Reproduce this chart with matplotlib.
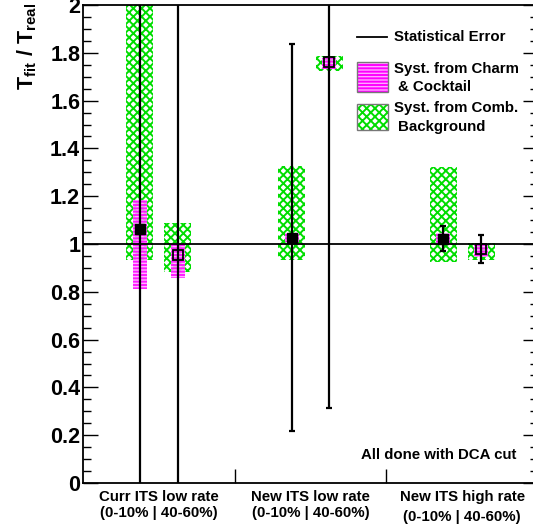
import matplotlib
matplotlib.use("Agg")
import matplotlib.pyplot as plt
from matplotlib.patches import Rectangle
from matplotlib.lines import Line2D
import numpy as np

plt.rcParams['font.family'] = ['Liberation Sans', 'DejaVu Sans']
plt.rcParams['font.weight'] = 'bold'
plt.rcParams['mathtext.fontset'] = 'custom'
plt.rcParams['mathtext.rm'] = 'Liberation Sans:bold'
plt.rcParams['mathtext.bf'] = 'Liberation Sans:bold'
plt.rcParams['mathtext.it'] = 'Liberation Sans:bold'
plt.rcParams['mathtext.default'] = 'bf'

# ---- data ----
group_labels = ["Curr ITS low rate", "New ITS low rate", "New ITS high rate"]
sub_label = "(0-10% | 40-60%)"
# order: curr 0-10, curr 40-60, new-low 0-10, new-low 40-60, new-high 0-10, new-high 40-60
x_pos = [0.375, 0.625, 1.375, 1.625, 2.375, 2.625]
ratio = [1.063, 0.954, 1.027, 1.762, 1.022, 0.979]
stat_err = [1.3, 1.4, 0.81, 1.45, 0.052, 0.059]
comb_low = [0.933, 0.883, 0.933, 1.722, 0.925, 0.933]
comb_high = [2.3, 1.088, 1.326, 1.787, 1.322, 1.004]
charm_low = [0.812, 0.858, 1.008, 1.732, 1.004, 0.946]
charm_high = [1.184, 1.004, 1.046, 1.780, 1.046, 0.996]
filled = [True, False, True, False, True, False]

W, H = 533, 528
fig = plt.figure(figsize=(W / 100, H / 100), dpi=100)
ax = fig.add_axes([83 / W, (H - 483) / H, 455 / W, 478 / H])

green = '#00dd00'
magenta = '#ff00ff'
plt.rcParams['hatch.linewidth'] = 1.4

FS = 10.8

gw = 0.089
mw = 0.046
for i in range(len(x_pos)):
    x = x_pos[i]
    ax.add_patch(Rectangle((x - gw, comb_low[i]), 2 * gw, comb_high[i] - comb_low[i],
                           facecolor='none', edgecolor=green, hatch='xxxx', lw=0, zorder=2))
    ax.add_patch(Rectangle((x - mw, charm_low[i]), 2 * mw, charm_high[i] - charm_low[i],
                           facecolor='#ffaaff', edgecolor=magenta, hatch='-----', lw=0,
                           alpha=0.85, zorder=3))

ax.axhline(1.0, color='black', lw=1.3, zorder=4)

for i in range(len(x_pos)):
    ax.errorbar(x_pos[i], ratio[i], yerr=stat_err[i], fmt='none', ecolor='black',
                elinewidth=1.6, capsize=2, capthick=1.6, zorder=5)
    if filled[i]:
        ax.plot(x_pos[i], ratio[i], marker='s', ms=7, color='black', zorder=6, lw=0)
    else:
        ax.plot(x_pos[i], ratio[i], marker='s', ms=6.5, mfc='none', mec='black', mew=1.3,
                zorder=6, lw=0)

ax.set_xlim(0, 3)
ax.set_ylim(0, 2)
ax.set_xticks([1, 2])
ax.set_xticklabels([])
ax.tick_params(axis='x', direction='in', length=10, width=1, top=False)
ax.set_yticks(np.arange(0, 2.01, 0.2))
ax.set_yticklabels(['0', '0.2', '0.4', '0.6', '0.8', '1', '1.2', '1.4', '1.6', '1.8', '2'])
ax.set_yticks(np.arange(0, 2.001, 0.05), minor=True)
ax.tick_params(axis='y', which='major', direction='in', length=11, width=1, right=True,
               labelsize=15.5, pad=2)
ax.tick_params(axis='y', which='minor', direction='in', length=5.5, width=1, right=True)
for s in ax.spines.values():
    s.set_linewidth(1.3)

# x group labels
for k, lab in enumerate(group_labels):
    ax.text(k + 0.5, -0.030, lab, transform=ax.get_xaxis_transform(), ha='center', va='center',
            fontsize=FS, fontweight='bold')
    yoff = -0.063 if k < 2 else -0.071
    ax.text(k + 0.5, yoff, sub_label, transform=ax.get_xaxis_transform(), ha='center',
            va='center', fontsize=FS, fontweight='bold')

# y label
fig.text(27 / W, 1 - 3 / H, r'T$_{fit}$ / T$_{real}$', rotation=90, ha='center', va='top',
         fontsize=15.5, fontweight='bold')

# annotation
ax.text(516, H - 455, 'All done with DCA cut', transform=None, ha='right', va='center',
        fontsize=FS, fontweight='bold')

# legend (manual)
def fx(px):
    return px / W

def fy(py):
    return 1 - py / H

fig.add_artist(Line2D([fx(357), fx(387)], [fy(37), fy(37)], color='black', lw=1.3))
fig.text(fx(394), fy(37), 'Statistical Error', ha='left', va='center', fontsize=FS,
         fontweight='bold')
fig.add_artist(Rectangle((fx(357), fy(92)), fx(31), 30 / H, transform=fig.transFigure,
                         facecolor='#ffaaff', edgecolor=magenta, hatch='-----', lw=0))
fig.add_artist(Rectangle((fx(357), fy(92)), fx(31), 30 / H, transform=fig.transFigure,
                         facecolor='none', edgecolor='#777777', lw=1))
fig.text(fx(394), fy(69), 'Syst. from Charm', ha='left', va='center', fontsize=FS,
         fontweight='bold')
fig.text(fx(398), fy(87), '& Cocktail', ha='left', va='center', fontsize=FS,
         fontweight='bold')
fig.add_artist(Rectangle((fx(357), fy(130)), fx(31), 26 / H, transform=fig.transFigure,
                         facecolor='white', edgecolor=green, hatch='xxxx', lw=0))
fig.add_artist(Rectangle((fx(357), fy(130)), fx(31), 26 / H, transform=fig.transFigure,
                         facecolor='none', edgecolor='#777777', lw=1))
fig.text(fx(394), fy(108), 'Syst. from Comb.', ha='left', va='center', fontsize=FS,
         fontweight='bold')
fig.text(fx(398), fy(127), 'Background', ha='left', va='center', fontsize=FS,
         fontweight='bold')

fig.savefig('out.png', dpi=100)
